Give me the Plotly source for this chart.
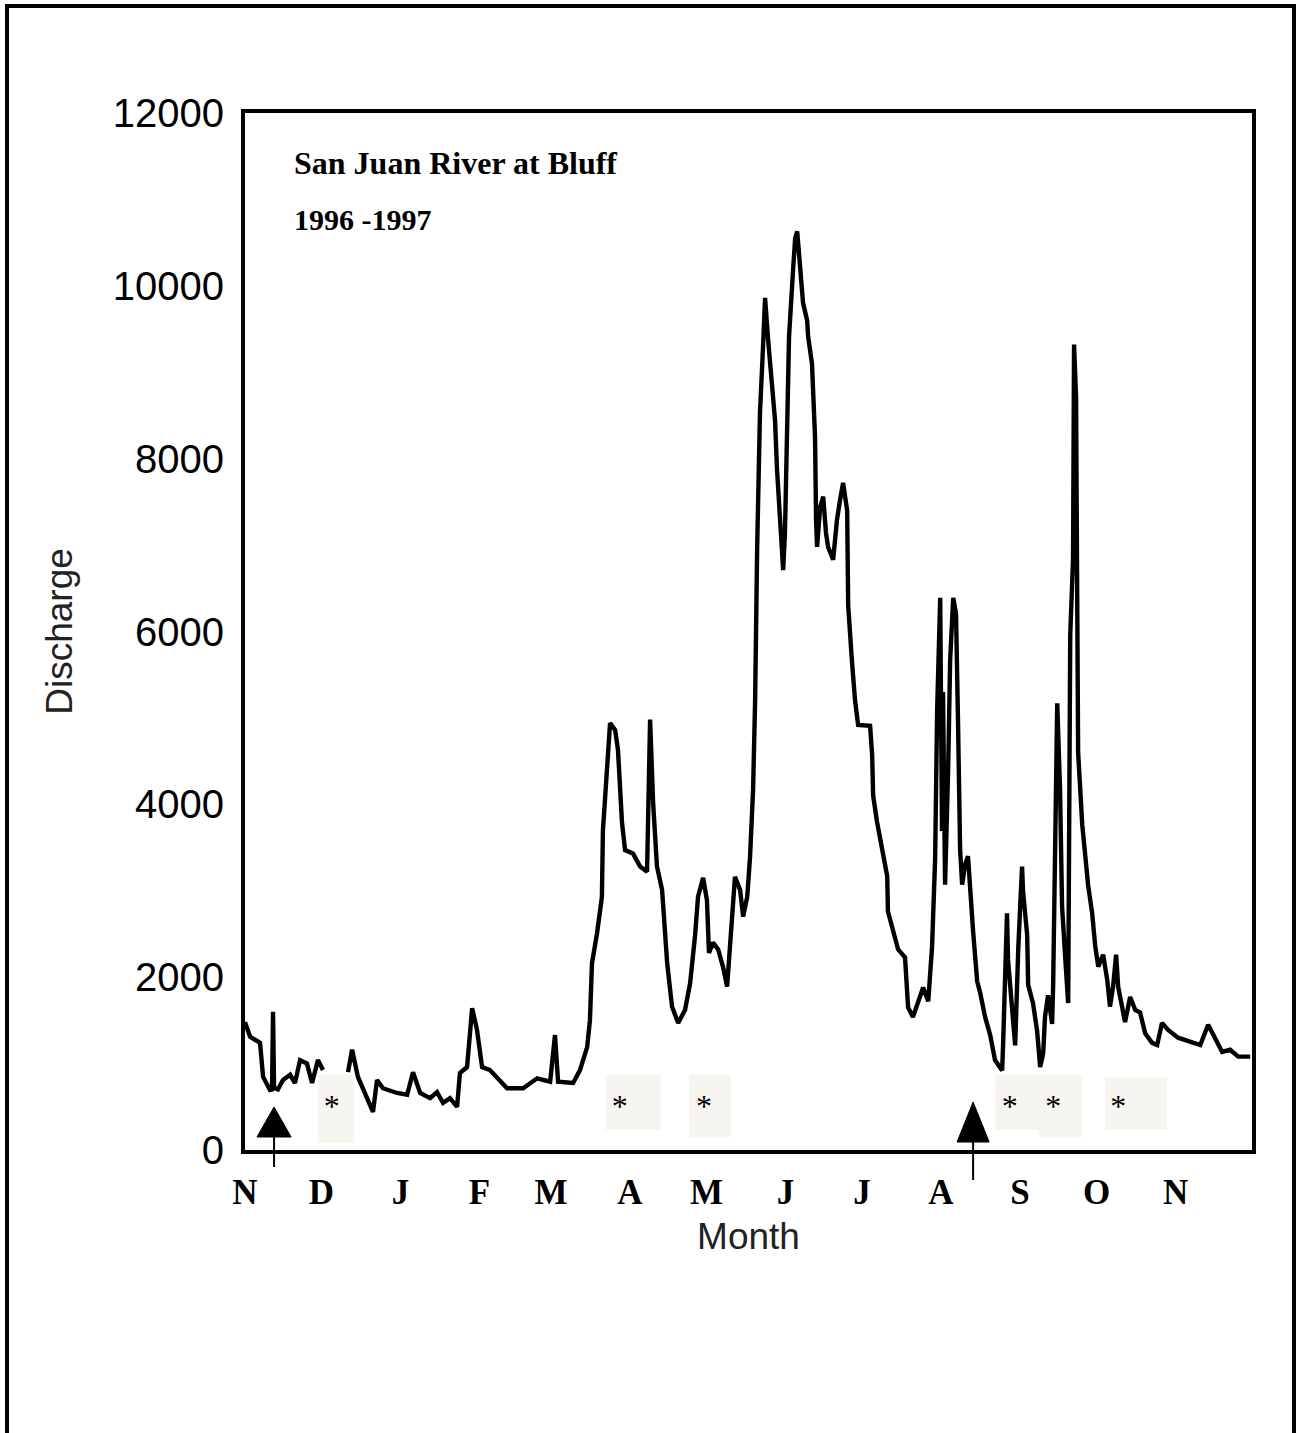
import plotly.graph_objects as go

# Daily discharge at Bluff, day 0 = 1 Nov 1996; None marks the break in the record in early December
day = [
    0, 2.0, 5.9, 7.1, 9.8, 10.6, 11.0, 11.4, 12.9, 14.9, 17.7, 19.6, 21.6, 24.3, 26.3, 28.6, 30.6,
    35.0,
    40.4, 42.0, 44.3, 47.9, 50.2, 51.8, 54.1, 59.6, 63.6, 65.9, 68.7, 72.6, 75.3, 77.7, 80.4,
    83.2, 84.3, 87.1, 89.1, 91.0, 93.0, 96.1, 102.8, 109.1, 114.6, 119.7, 121.6, 122.8, 128.7,
    131.4, 134.2, 135.3, 136.1, 138.1, 140.0, 140.4, 142.0, 143.2, 145.2, 146.3, 147.9, 149.1,
    152.2, 155.0, 157.7, 158.1, 158.9, 160.1, 161.6, 163.6, 165.6, 167.5, 169.9, 172.6, 174.6,
    176.5, 177.7, 179.7, 181.2, 182.0, 183.6, 185.6, 187.5, 189.1, 191.1, 192.2, 194.2, 195.4,
    197.0, 198.1, 199.3, 200.1, 200.9, 202.0, 203.2, 204.0, 205.2, 206.7, 207.9, 208.7, 209.9,
    211.1, 211.8, 212.6, 213.4, 215.0, 215.8, 216.6, 217.7, 218.9, 220.5, 220.9, 222.4, 223.6,
    224.0, 224.4, 225.6, 226.8, 227.9, 228.7, 230.7, 232.2, 233.4, 234.6, 236.2, 236.6, 238.1,
    239.3, 240.5, 245.2, 246.0, 246.4, 247.9, 249.9, 251.9, 252.2, 254.2, 256.2, 258.9, 260.1,
    262.0, 264.0, 266.0, 268.0, 269.5, 270.7, 271.5, 272.7, 273.4, 273.8, 274.6, 275.8, 276.6,
    277.8, 278.9, 279.7, 280.5, 281.3, 282.5, 283.6, 284.4, 285.6, 287.2, 288.3, 290.3, 292.3,
    294.2, 297.0, 297.4, 298.9, 299.3, 300.9, 302.1, 303.3, 304.8, 305.2, 306.8, 307.2, 309.1,
    310.7, 311.9, 313.1, 313.8, 315.0, 316.6, 317.0, 317.8, 318.6, 319.7, 320.5, 321.7, 322.9,
    323.7, 324.8, 325.2, 326.0, 326.4, 326.8, 328.4, 329.5, 330.7, 332.3, 333.5, 334.7, 336.6,
    338.2, 339.3, 340.5, 341.7, 342.5, 344.1, 345.2, 347.2, 349.2, 351.1, 353.1, 355.8, 357.8,
    359.7, 362.1, 366.0, 371.5, 374.7, 377.8, 381.3, 383.3, 386.4, 389.6, 394.3,
]
discharge = [
    1480, 1310, 1240, 845, 694, 700, 1600, 720, 700, 810, 870, 775, 1040, 1000, 775, 1040, 925,
    None,
    900, 1160, 845, 615, 440, 810, 715, 660, 640, 900, 660, 600, 670, 545, 600,
    500, 890, 960, 1640, 1390, 960, 925, 715, 715, 830, 790, 1330, 790, 775,
    925, 1190, 1500, 2160, 2510, 2930, 3700, 4400, 4940, 4860, 4630, 3780, 3470,
    3430, 3280, 3220, 4110, 4980, 4010, 3280, 3010, 2160, 1660, 1470, 1620, 1930,
    2470, 2930, 3150, 2890, 2280, 2400, 2320, 2120, 1890, 2740, 3160, 3010, 2700,
    2930, 3390, 4170, 5210, 6980, 8530, 9290, 9860, 9375, 8830, 8450, 7870, 7330,
    6710, 7140, 8300, 9410, 10190, 10550, 10630, 10220, 9800, 9600, 9410, 9100, 8250,
    7290, 6980, 7440, 7560, 7140, 6980, 6830, 7290, 7520, 7720, 7400, 6300, 5650,
    5200, 4920, 4910, 4570, 4100, 3800, 3500, 3170, 2760, 2520, 2320, 2230, 1650,
    1540, 1730, 1880, 1720, 2350, 3360, 5100, 6390, 3690, 5300, 3070, 4390, 5670,
    6390, 6210, 4930, 3480, 3070, 3310, 3400, 3030, 2530, 1950, 1830, 1540, 1330,
    1040, 920, 1250, 2740, 2200, 1540, 1210, 2320, 3280, 2990, 2490, 1910, 1700,
    1380, 960, 1120, 1540, 1790, 1460, 1910, 3770, 5170, 4180, 2820, 2240, 1700,
    5960, 6830, 9320, 8700, 6580, 4600, 3770, 3400, 3070, 2740, 2360, 2120, 2260,
    1970, 1660, 1890, 2260, 1890, 1620, 1480, 1770, 1620, 1590, 1350, 1240, 1215,
    1470, 1390, 1300, 1240, 1215, 1450, 1240, 1135, 1160, 1080, 1080,
]

month_start_day = [0, 30, 61, 92, 120, 151, 181, 212, 242, 273, 304, 334, 365]
month_letters = ["N", "D", "J", "F", "M", "A", "M", "J", "J", "A", "S", "O", "N"]
y_ticks = [0, 2000, 4000, 6000, 8000, 10000, 12000]

# Sampling dates (asterisks), the shaded windows around them, and the two marked events (arrows)
sample_days = [34, 147, 180, 300, 317, 342.5]
sampling_windows = [(28.6, 42.8), (141.6, 163.2), (174.2, 190.7), (294.2, 328.3), (337.4, 361.7)]
event_days = [11.4, 285.6]

W, H = 1298, 1433
L, R, T, B = 245, 46, 113, 283
plot_w = W - L - R
plot_h = H - T - B


def px_x(p):
    return (p - L) / plot_w


def px_y(p):
    return (H - B - p) / plot_h


fig = go.Figure()

fig.add_trace(go.Scatter(
    x=day, y=discharge, mode="lines",
    line=dict(color="black", width=4.4),
    connectgaps=False, hoverinfo="skip", showlegend=False,
))

fig.add_trace(go.Scatter(
    x=sample_days, y=[470] * len(sample_days), mode="text",
    text=["*"] * len(sample_days), textposition="middle center",
    textfont=dict(family="Liberation Serif, Times New Roman, serif", size=32, color="black"),
    hoverinfo="skip", showlegend=False,
))

shapes = []
box_fill = "#f7f5f0"
box_bottoms = [81, 231, 150, 231, 231]
box_tops = [868, 868, 868, 868, 845]
for (x0, x1), yb, yt in zip(sampling_windows, box_bottoms, box_tops):
    shapes.append(dict(type="rect", xref="x", yref="y", x0=x0, x1=x1, y0=yb, y1=yt,
                       fillcolor=box_fill, line=dict(width=0), layer="below"))
# small step at the foot of the September window
shapes.append(dict(type="rect", xref="x", yref="y", x0=311.5, x1=328.3, y0=150, y1=231,
                   fillcolor=box_fill, line=dict(width=0), layer="below"))

arrow_geom = [(1107, 1137, 1167, 6.7), (1102, 1142, 1180, 6.3)]
for d, (tip, base, tail, half) in zip(event_days, arrow_geom):
    ya, yb, yt = px_y(tip), px_y(base), px_y(tail)
    shapes.append(dict(type="path", xref="x", yref="paper",
                       path=f"M {d - half},{yb} L {d + half},{yb} L {d},{ya} Z",
                       fillcolor="black", line=dict(color="black", width=1)))
    shapes.append(dict(type="line", xref="x", yref="paper", x0=d, x1=d, y0=yb, y1=yt,
                       line=dict(color="black", width=2)))

# outer frame around the whole figure (open at the bottom)
fx0, fx1, fy_top, fy_bot = px_x(7), px_x(1294), px_y(6), px_y(1450)
shapes.append(dict(type="path", xref="paper", yref="paper",
                   path=f"M {fx0},{fy_bot} L {fx0},{fy_top} L {fx1},{fy_top} L {fx1},{fy_bot}",
                   line=dict(color="black", width=4)))

annotations = [
    dict(text="San Juan River at Bluff", xref="paper", yref="paper",
         x=px_x(292), y=px_y(163), xanchor="left", yanchor="middle", showarrow=False,
         font=dict(family="Liberation Serif, Times New Roman, serif", size=32, color="black",
                   weight="bold")),
    dict(text="1996 -1997", xref="paper", yref="paper",
         x=px_x(292), y=px_y(220), xanchor="left", yanchor="middle", showarrow=False,
         font=dict(family="Liberation Serif, Times New Roman, serif", size=30, color="black",
                   weight="bold")),
]

fig.update_layout(
    width=W, height=H,
    margin=dict(l=L, r=R, t=T, b=B, pad=0),
    paper_bgcolor="white", plot_bgcolor="white",
    shapes=shapes, annotations=annotations,
    showlegend=False,
)

fig.update_xaxes(
    range=[0, 395], tickmode="array", tickvals=month_start_day, ticktext=month_letters,
    tickfont=dict(family="Liberation Serif, Times New Roman, serif", size=35, color="black",
                  weight="bold"),
    ticks="", ticklabelstandoff=8,
    showline=True, mirror=True, linecolor="black", linewidth=4,
    showgrid=False, zeroline=False, automargin=False,
    title=dict(text="Month", standoff=13,
               font=dict(family="Liberation Sans, Arial, sans-serif", size=37, color="#222222")),
)
fig.update_yaxes(
    range=[0, 12000], tickmode="array", tickvals=y_ticks, ticktext=[str(v) for v in y_ticks],
    tickfont=dict(family="Liberation Sans, Arial, sans-serif", size=40, color="black"),
    ticks="", ticklabelstandoff=9,
    showline=True, mirror=True, linecolor="black", linewidth=4,
    showgrid=False, zeroline=False, automargin=False,
    title=dict(text="Discharge", standoff=30,
               font=dict(family="Liberation Sans, Arial, sans-serif", size=37, color="#222222")),
)

fig.write_html("out.html")
